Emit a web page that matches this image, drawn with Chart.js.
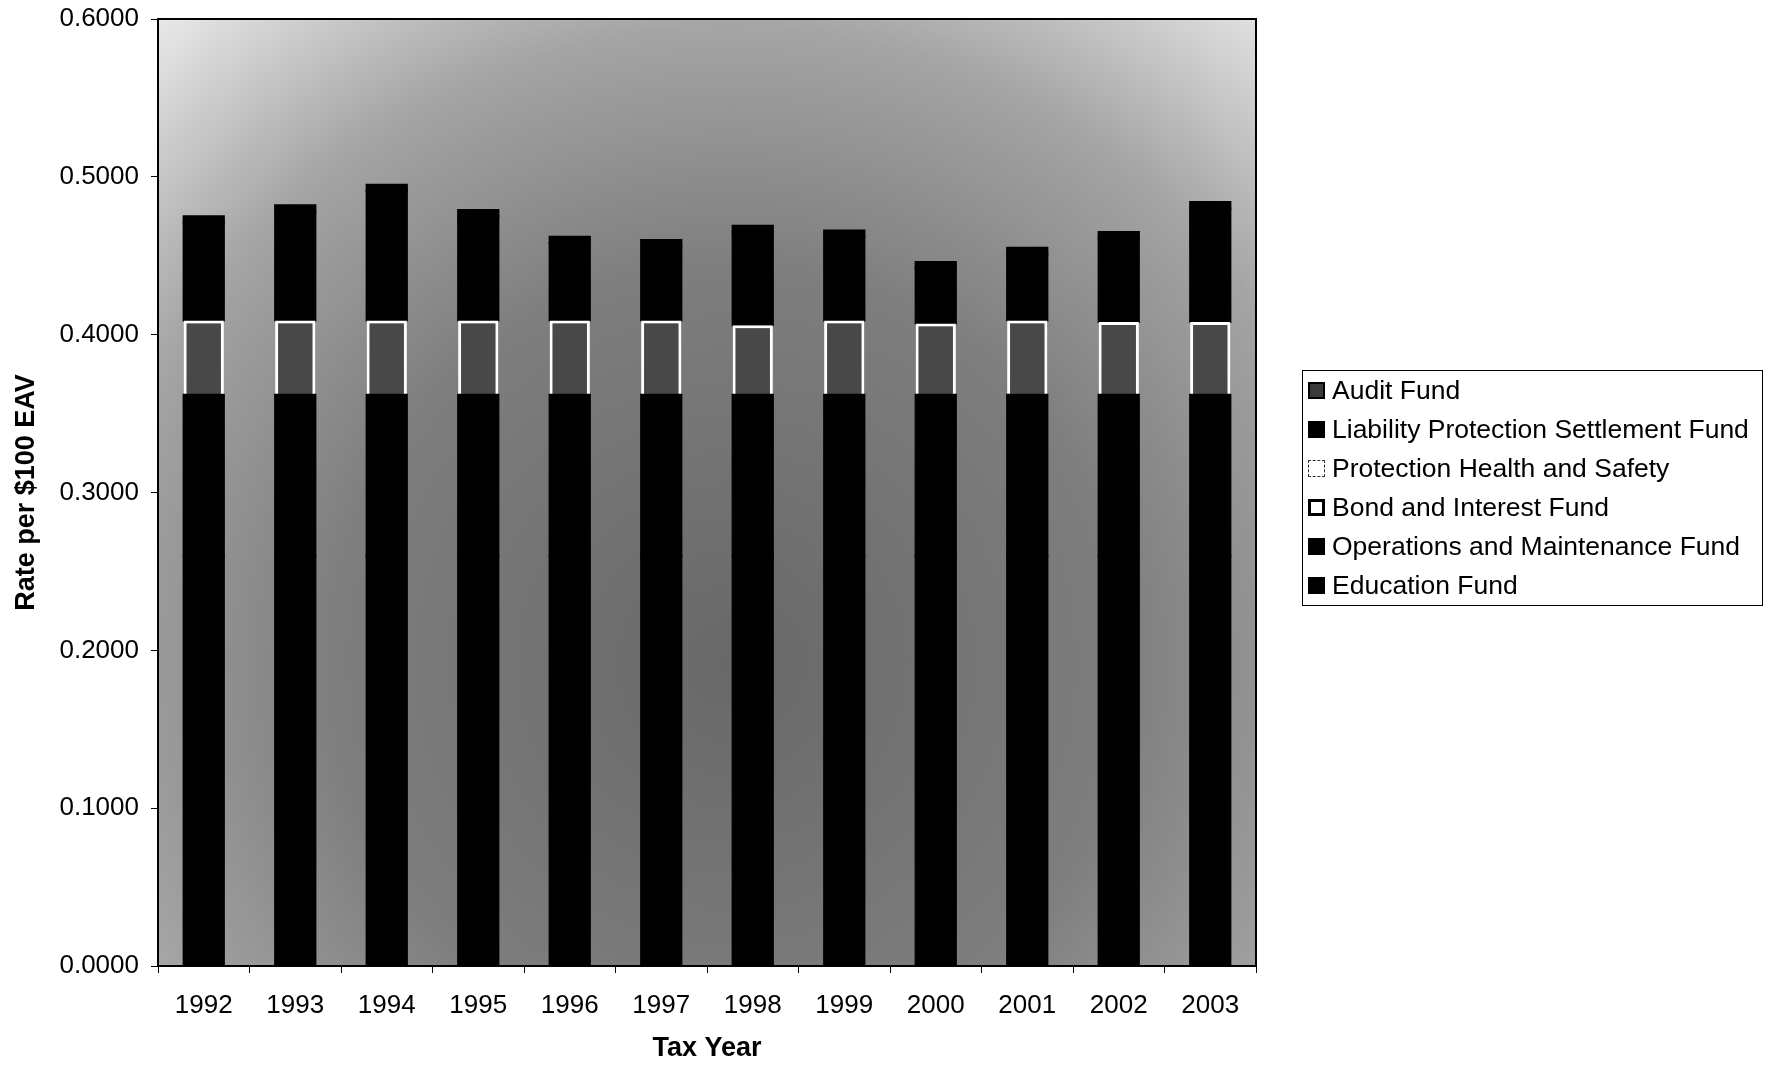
<!DOCTYPE html>
<html>
<head>
<meta charset="utf-8">
<script src="https://cdn.jsdelivr.net/npm/chart.js@4/dist/chart.umd.min.js"></script>
<style>
  html, body { margin: 0; padding: 0; background: #fff; }
  #wrap { position: relative; width: 1775px; height: 1065px; }
  #legend {
    position: absolute; left: 1302px; top: 370px; width: 459px; height: 234px;
    border: 1px solid #000; font-family: "Liberation Sans", Arial, sans-serif; font-size: 26.5px; color: #000;
  }
  .row { display: flex; align-items: center; height: 39px; padding-left: 5px; white-space: nowrap; }
  .box { width: 17px; height: 17px; box-sizing: border-box; margin-right: 7px; flex: none; }
</style>
</head>
<body>
<div id="wrap">
  <canvas id="chart" width="1775" height="1065"></canvas>
  <div id="legend"></div>
</div>
<script>
const years = ['1992', '1993', '1994', '1995', '1996', '1997', '1998', '1999', '2000', '2001', '2002', '2003'];

// rate per $100 EAV, stacked bottom to top
const educationFund = [0.260, 0.260, 0.260, 0.260, 0.260, 0.260, 0.260, 0.260, 0.260, 0.260, 0.260, 0.260];
const operationsFund = [0.102, 0.102, 0.102, 0.102, 0.102, 0.102, 0.102, 0.102, 0.102, 0.102, 0.102, 0.102];
const bondInterestFund = [0.047, 0.047, 0.047, 0.047, 0.047, 0.047, 0.044, 0.047, 0.045, 0.047, 0.046, 0.046];
const healthSafetyFund = [0, 0, 0, 0, 0, 0, 0, 0, 0, 0, 0, 0];
const liabilityFund = [0.062, 0.069, 0.082, 0.066, 0.049, 0.047, 0.059, 0.053, 0.035, 0.042, 0.053, 0.072];
const auditFund = [0.004, 0.004, 0.004, 0.004, 0.004, 0.004, 0.004, 0.004, 0.004, 0.004, 0.004, 0.004];

const yTicks = [0, 0.1, 0.2, 0.3, 0.4, 0.5, 0.6];

const FONT = '"Liberation Sans", Arial, sans-serif';

const plotBackground = {
    id: 'plotBackground',
    beforeDraw(chart) {
        const { ctx, chartArea: a } = chart;
        const cx = a.left + a.width * 0.52, cy = a.top + a.height * 0.68;
        const g = ctx.createRadialGradient(cx, cy, 0, cx, cy, 880);
        g.addColorStop(0, '#686868');
        g.addColorStop(0.45, '#7e7e7e');
        g.addColorStop(0.72, '#a4a4a4');
        g.addColorStop(1, '#efefef');
        ctx.save();
        ctx.fillStyle = g;
        ctx.fillRect(a.left, a.top, a.width, a.height);
        ctx.restore();
    },
    afterDatasetsDraw(chart) {
        const { ctx, chartArea: a } = chart;
        ctx.save();
        ctx.strokeStyle = '#000';
        ctx.lineWidth = 2;
        ctx.strokeRect(a.left, a.top, a.width, a.height);
        ctx.restore();
    }
};

const datasets = [
    { label: 'Education Fund', data: educationFund, backgroundColor: '#000', inflateAmount: 1, icon: 'background:#000' },
    { label: 'Operations and Maintenance Fund', data: operationsFund, backgroundColor: '#000', inflateAmount: 1, icon: 'background:#000' },
    { label: 'Bond and Interest Fund', data: bondInterestFund, backgroundColor: '#484848', borderColor: '#fff', borderWidth: 3, icon: 'background:#fff;border:3px solid #000' },
    { label: 'Protection Health and Safety', data: healthSafetyFund, backgroundColor: '#fff', icon: 'background:#fff;border:1px dashed #333' },
    { label: 'Liability Protection Settlement Fund', data: liabilityFund, backgroundColor: '#000', inflateAmount: 1, icon: 'background:#000' },
    { label: 'Audit Fund', data: auditFund, backgroundColor: '#000', inflateAmount: 1, icon: 'background:#3a3a3a;border:2px solid #000' }
].map(d => Object.assign({ borderWidth: 0, barPercentage: 0.44, categoryPercentage: 1 }, d));

const chart = new Chart(document.getElementById('chart'), {
    type: 'bar',
    data: { labels: years, datasets: datasets },
    plugins: [plotBackground],
    options: {
        responsive: false,
        animation: false,
        layout: { padding: { top: 19, right: 519, left: 0, bottom: 0 } },
        plugins: { legend: { display: false }, tooltip: { enabled: false } },
        scales: {
            x: {
                stacked: true,
                afterFit: s => { s.height = 99; s.paddingLeft = 0; s.paddingRight = 0; },
                grid: { display: true, offset: true, drawOnChartArea: false, tickLength: 7, color: '#000', lineWidth: 1 },
                border: { display: true, color: '#000', width: 2 },
                ticks: { color: '#000', font: { family: FONT, size: 26 }, padding: 17 },
                title: { display: true, text: 'Tax Year', color: '#000', font: { family: FONT, size: 27, weight: 'bold' }, padding: { top: 0, bottom: 0 } }
            },
            y: {
                stacked: true,
                min: 0,
                max: 0.6,
                afterFit: s => { s.width = 158; s.paddingTop = 0; s.paddingBottom = 0; },
                afterBuildTicks: s => { s.ticks = yTicks.map(v => ({ value: v })); },
                grid: { drawOnChartArea: false, tickLength: 7, color: '#000', lineWidth: 1 },
                border: { display: true, color: '#000', width: 2 },
                ticks: { color: '#000', font: { family: FONT, size: 26 }, padding: 12, callback: v => v.toFixed(4) },
                title: { display: true, text: 'Rate per $100 EAV', color: '#000', font: { family: FONT, size: 27, weight: 'bold' }, padding: { top: 10, bottom: 0 } }
            }
        }
    }
});

// legend, top of stack first
const legend = document.getElementById('legend');
chart.data.datasets.slice().reverse().forEach(ds => {
    const row = document.createElement('div');
    row.className = 'row';
    row.innerHTML = '<span class="box" style="' + ds.icon + '"></span>' + ds.label;
    legend.appendChild(row);
});
</script>
</body>
</html>
